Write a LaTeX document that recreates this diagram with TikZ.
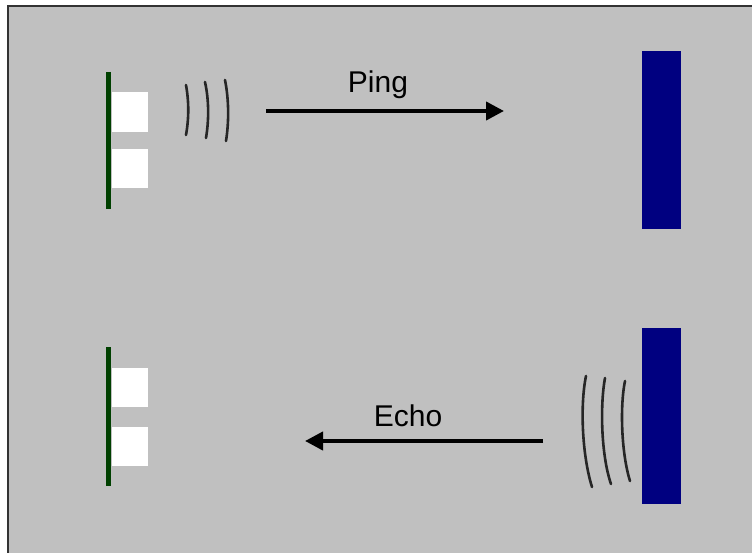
\documentclass[tikz,border=0pt]{standalone}
\usepackage{fontspec}
\setmainfont{Liberation Sans}
\usetikzlibrary{arrows.meta}
\definecolor{bggray}{RGB}{192,192,192}
\definecolor{navy}{RGB}{0,0,128}
\definecolor{board}{RGB}{0,64,0}

\begin{document}
\begin{tikzpicture}[x=1pt, y=-1pt,
    txt/.style={font=\fontsize{30}{34}\selectfont, anchor=base, inner sep=0pt},
    wave/.style={black!85, line width=2.6pt, line cap=round},
    ray/.style={line width=4pt, -{Triangle[length=18pt, width=18pt]}}]
    \useasboundingbox (0, 0) rectangle (752, 553);
    \fill[white] (0, 0) rectangle (752, 553);
    \fill[bggray] (8, 6) rectangle (752, 553);
    \draw[black!80, line width=2pt] (8, 553)--(8, 6)--(752, 6);
    \fill[white] (112, 92) rectangle (148, 132);
    \fill[white] (112, 149) rectangle (148, 188);
    \draw[board, line width=5pt] (108, 72)--(108, 209);
    \fill[white] (112, 368) rectangle (148, 407);
    \fill[white] (112, 427) rectangle (148, 466);
    \draw[board, line width=5pt] (108, 347)--(108, 486);
    \fill[navy] (642, 51) rectangle (681, 229);
    \fill[navy] (642, 328) rectangle (681, 504);
    \draw[wave] (186, 85) .. controls (189, 102) and (189, 118) .. (186, 135);
    \draw[wave] (205, 82) .. controls (209, 100) and (209, 120) .. (206, 138);
    \draw[wave] (225, 80) .. controls (229, 100) and (229, 122) .. (226, 141);
    \draw[wave] (586, 376) .. controls (580, 405) and (582, 455) .. (592, 487);
    \draw[wave] (605, 378) .. controls (600, 405) and (601, 455) .. (611, 484);
    \draw[wave] (625, 381) .. controls (620, 405) and (621, 452) .. (630, 481);
    \coordinate(p1) at (266, 111);
    \coordinate(p2) at (504, 111);
    \coordinate(e1) at (543, 441);
    \coordinate(e2) at (305, 441);
    \draw[ray] (p1)--(p2);
    \draw[ray] (e1)--(e2);
    \node[txt](ping) at (378, 93) {Ping};
    \node[txt](echo) at (408, 426) {Echo};
  \end{tikzpicture}
\end{document}
